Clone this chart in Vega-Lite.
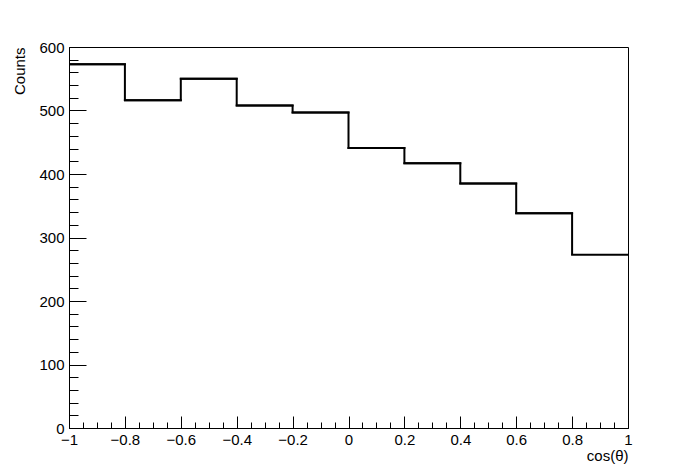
{
  "$schema": "https://vega.github.io/schema/vega-lite/v6.json",
  "width": 559,
  "height": 381,
  "autosize": "none",
  "padding": {"left": 69, "top": 47, "right": 70, "bottom": 48},
  "background": "white",
  "config": {
    "view": {"stroke": "black", "strokeWidth": 1},
    "axis": {
      "grid": false,
      "domainColor": "black",
      "domainWidth": 1,
      "tickColor": "black",
      "tickWidth": 1,
      "labelColor": "black",
      "titleColor": "black",
      "labelFont": "Liberation Sans",
      "titleFont": "Liberation Sans",
      "labelFontSize": 15,
      "titleFontSize": 15,
      "titleFontWeight": "normal",
      "labelFlush": false,
      "labelOverlap": false
    }
  },
  "data": {
    "values": [
      {"lo": -1.0, "hi": -0.8, "counts": 573},
      {"lo": -0.8, "hi": -0.6, "counts": 516},
      {"lo": -0.6, "hi": -0.4, "counts": 550},
      {"lo": -0.4, "hi": -0.2, "counts": 508},
      {"lo": -0.2, "hi": 0.0, "counts": 497},
      {"lo": 0.0, "hi": 0.2, "counts": 441},
      {"lo": 0.2, "hi": 0.4, "counts": 417},
      {"lo": 0.4, "hi": 0.6, "counts": 385},
      {"lo": 0.6, "hi": 0.8, "counts": 338},
      {"lo": 0.8, "hi": 1.0, "counts": 273}
    ]
  },
  "encoding": {
    "x": {
      "field": "lo",
      "type": "quantitative",
      "scale": {"domain": [-1, 1], "nice": false, "zero": false},
      "axis": {
        "title": "cos(θ)",
        "values": [-1, -0.95, -0.9, -0.85, -0.8, -0.75, -0.7, -0.65, -0.6, -0.55, -0.5, -0.45, -0.4, -0.35, -0.3, -0.25, -0.2, -0.15, -0.1, -0.05, 0, 0.05, 0.1, 0.15, 0.2, 0.25, 0.3, 0.35, 0.4, 0.45, 0.5, 0.55, 0.6, 0.65, 0.7, 0.75, 0.8, 0.85, 0.9, 0.95, 1],
        "format": "~g",
        "tickSize": {"condition": {"test": "abs(datum.value*5 - round(datum.value*5)) < 1e-6", "value": -12}, "value": -6},
        "labelOpacity": {"condition": {"test": "abs(datum.value*5 - round(datum.value*5)) < 1e-6", "value": 1}, "value": 0},
        "labelPadding": 16,
        "titleAnchor": "end",
        "titleAlign": "right",
        "titleBaseline": "alphabetic",
        "titleX": 559,
        "titleY": 32
      }
    },
    "y": {
      "field": "counts",
      "type": "quantitative",
      "scale": {"domain": [0, 600], "nice": false, "zero": true},
      "axis": {
        "title": "Counts",
        "values": [0, 20, 40, 60, 80, 100, 120, 140, 160, 180, 200, 220, 240, 260, 280, 300, 320, 340, 360, 380, 400, 420, 440, 460, 480, 500, 520, 540, 560, 580, 600],
        "tickSize": {"condition": {"test": "datum.value % 100 === 0", "value": -17}, "value": -9},
        "labelOpacity": {"condition": {"test": "datum.value % 100 === 0", "value": 1}, "value": 0},
        "labelPadding": 22,
        "labelBaseline": "middle",
        "titleAngle": -90,
        "titleAlign": "right",
        "titleBaseline": "alphabetic",
        "titleX": -45,
        "titleY": 0
      }
    }
  },
  "layer": [
    {
      "mark": {"type": "rule", "color": "black", "strokeWidth": 2, "strokeCap": "square", "clip": true},
      "encoding": {"x2": {"field": "hi"}}
    },
    {
      "mark": {"type": "line", "interpolate": "step-after", "color": "black", "strokeWidth": 2}
    }
  ]
}
